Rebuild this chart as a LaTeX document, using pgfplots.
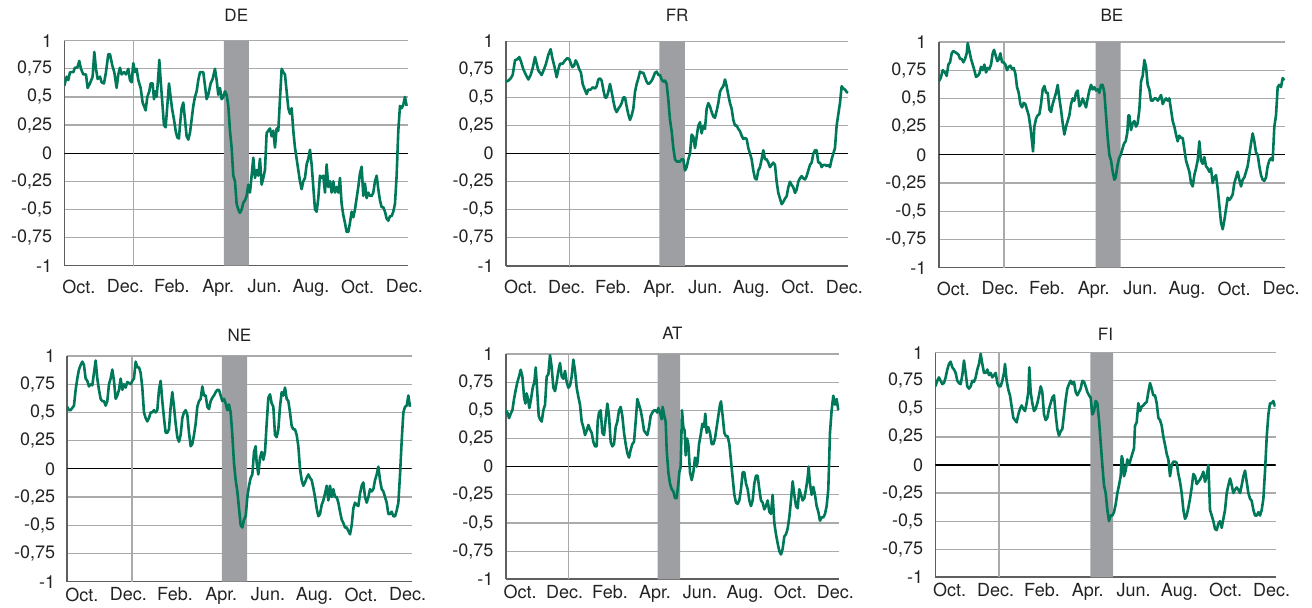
\documentclass[border=0pt]{standalone}
\usepackage{pgfplots}
\pgfplotsset{compat=1.18}
\usepackage{fontspec}
\setmainfont{TeX Gyre Heros}
\definecolor{lgreen}{RGB}{0,120,90}
\definecolor{shadegray}{RGB}{158,159,163}
\definecolor{gridgray}{RGB}{170,170,170}
\definecolor{axisgray}{RGB}{95,95,95}
\definecolor{textgray}{RGB}{35,35,35}
\pgfplotsset{
 panel/.style={
  scale only axis, axis lines=left, axis line style={draw=axisgray, line width=0.8pt, -},
  ymin=-1, ymax=1, ytick={-1,-0.75,-0.5,-0.25,0,0.25,0.5,0.75,1},
  yticklabels={-1,{-0,75},{-0,5},{-0,25},0,{0,25},{0,5},{0,75},1},
  ymajorgrids, grid style={gridgray, line width=0.6pt},
  major tick length=0pt,
  xticklabels={Oct.,Dec.,Feb.,Apr.,Jun.,Aug.,Oct.,Dec.},
  tick label style={font=\fontsize{9}{10}\selectfont, text=textgray},
  yticklabel style={xshift=-2.6pt},
  anchor=north west,
  title style={font=\fontsize{8.5}{10}\selectfont, text=textgray, anchor=base, at={(0.5,1)}},
 },
 toprow/.style={xticklabel style={yshift=-3.5pt}},
 botrow/.style={xticklabel style={yshift=0.5pt}},
 dline/.style={lgreen, line width=1.3pt, line join=round, no marks},
 zline/.style={black, line width=0.6pt, no marks},
 vline/.style={gridgray, line width=0.6pt, no marks},
 shade/.style={fill=shadegray, draw=none, no marks},
}
\begin{document}
\begin{tikzpicture}
\path[use as bounding box] (0,0) rectangle (656pt,304pt);
% ---------------- DE
\begin{axis}[panel, toprow, at={(32.15pt,283.65pt)}, width=172pt, height=112.5pt,
 xmin=193, xmax=1225, xtick={237,376,516,655,794,933,1073,1213},
 title={DE}, title style={yshift=3.5pt}]
\addplot[zline] coordinates {(193,0)(1225,0)};
\addplot[vline] coordinates {(400,-1)(400,1)};
\addplot[shade] coordinates {(672,-1)(747,-1)(747,1)(672,1)} \closedcycle;
\addplot[dline] coordinates {
(193,0.6)(200,0.68)(205,0.65)(210,0.72)(220,0.72)(225,0.76)(232,0.76)(238,0.82)(243,0.75)(250,0.70)
(258,0.70)(263,0.58)(270,0.62)(278,0.68)(283,0.90)(288,0.75)(293,0.66)(300,0.68)(305,0.63)(312,0.62)
(318,0.72)(325,0.88)(330,0.88)(337,0.78)(343,0.72)(350,0.58)(355,0.70)(360,0.76)(365,0.70)(372,0.72)
(378,0.70)(385,0.75)(390,0.65)(395,0.63)(400,0.80)(405,0.72)(410,0.75)(415,0.65)(422,0.58)(428,0.45)
(432,0.42)(437,0.38)(442,0.50)(448,0.55)(452,0.62)(458,0.62)(462,0.48)(466,0.55)(470,0.50)(475,0.68)
(478,0.83)(482,0.65)(487,0.45)(492,0.25)(497,0.23)(502,0.42)(507,0.62)(512,0.50)(516,0.40)(522,0.30)
(527,0.20)(532,0.14)(537,0.13)(540,0.25)(545,0.40)(550,0.45)(555,0.30)(560,0.15)(565,0.12)(570,0.18)
(575,0.30)(580,0.42)(585,0.50)(590,0.55)(595,0.65)(600,0.72)(610,0.72)(615,0.60)(620,0.48)(625,0.52)
(632,0.62)(638,0.66)(645,0.75)(650,0.65)(655,0.52)(660,0.58)(665,0.48)(670,0.50)(675,0.55)(680,0.52)
(685,0.42)(690,0.20)(695,0.05)(700,-0.20)(705,-0.25)(710,-0.45)(715,-0.50)(720,-0.53)(725,-0.50)(730,-0.44)
(735,-0.42)(740,-0.38)(745,-0.28)(750,-0.35)(755,-0.20)(760,-0.04)(765,-0.22)(770,-0.15)(775,-0.20)(780,-0.05)
(785,-0.28)(790,-0.22)(795,-0.15)(800,0.18)(805,0.20)(810,0.22)(815,0.15)(820,0.20)(825,0.05)(830,0.22)
(835,0.20)(840,0.48)(845,0.75)(850,0.72)(855,0.70)(860,0.55)(865,0.40)(870,0.35)(875,0.40)(880,0.20)
(885,0.05)(890,-0.05)(895,-0.15)(900,-0.25)(905,-0.32)(910,-0.25)(915,-0.22)(920,-0.10)(925,-0.05)(930,0.03)
(935,-0.10)(940,-0.30)(945,-0.50)(950,-0.52)(955,-0.40)(960,-0.20)(965,-0.22)(970,-0.20)(975,-0.35)(980,-0.10)
(985,-0.30)(990,-0.25)(995,-0.35)(1000,-0.25)(1005,-0.35)(1010,-0.30)(1015,-0.35)(1020,-0.22)(1025,-0.45)(1030,-0.55)
(1035,-0.62)(1040,-0.70)(1045,-0.70)(1050,-0.62)(1055,-0.52)(1060,-0.57)(1065,-0.50)(1070,-0.40)(1075,-0.30)(1080,-0.18)
(1085,-0.12)(1090,-0.38)(1095,-0.27)(1100,-0.40)(1105,-0.35)(1110,-0.38)(1115,-0.38)(1120,-0.35)(1125,-0.25)(1130,-0.20)
(1135,-0.32)(1140,-0.42)(1145,-0.48)(1150,-0.48)(1155,-0.52)(1160,-0.58)(1165,-0.60)(1170,-0.56)(1175,-0.56)(1180,-0.52)
(1185,-0.45)(1190,-0.20)(1195,0.20)(1200,0.42)(1205,0.40)(1210,0.43)(1215,0.50)(1220,0.42)};
\end{axis}
% ---------------- FR
\begin{axis}[panel, toprow, at={(253pt,283.35pt)}, width=171.15pt, height=112.35pt,
 xmin=198, xmax=1225, xtick={242,380,519,658,796,934,1074,1213},
 title={FR}, title style={yshift=3.8pt}]
\addplot[zline] coordinates {(198,0)(1225,0)};
\addplot[vline] coordinates {(388,-1)(388,1)};
\addplot[shade] coordinates {(658,-1)(735,-1)(735,1)(658,1)} \closedcycle;
\addplot[dline] coordinates {
(198,0.64)(205,0.65)(212,0.67)(218,0.70)(225,0.83)(232,0.84)(238,0.86)(243,0.82)(250,0.75)(258,0.70)
(265,0.66)(272,0.70)(278,0.76)(285,0.86)(290,0.80)(295,0.74)(300,0.72)(305,0.70)(312,0.75)(318,0.80)
(325,0.88)(332,0.93)(337,0.85)(343,0.78)(350,0.68)(355,0.75)(360,0.80)(368,0.80)(375,0.83)(382,0.85)
(388,0.84)(393,0.80)(397,0.77)(402,0.78)(407,0.83)(412,0.80)(418,0.75)(423,0.72)(428,0.62)(433,0.58)
(440,0.53)(445,0.57)(452,0.57)(458,0.59)(465,0.58)(470,0.60)(475,0.66)(480,0.67)(485,0.65)(490,0.57)
(495,0.50)(500,0.50)(505,0.55)(510,0.62)(515,0.55)(520,0.47)(525,0.40)(530,0.37)(535,0.40)(540,0.42)
(545,0.45)(550,0.50)(555,0.50)(560,0.42)(565,0.35)(570,0.30)(575,0.34)(580,0.40)(585,0.55)(590,0.62)
(595,0.67)(600,0.73)(605,0.72)(610,0.72)(615,0.68)(620,0.64)(625,0.62)(630,0.63)(635,0.65)(640,0.68)
(645,0.72)(650,0.73)(655,0.70)(660,0.70)(665,0.66)(670,0.64)(675,0.65)(680,0.62)(685,0.48)(690,0.30)
(695,0.20)(700,0.05)(705,-0.05)(710,-0.07)(715,-0.07)(720,-0.07)(725,-0.05)(730,-0.05)(735,-0.15)(740,-0.12)
(745,-0.05)(750,0.00)(755,0.17)(760,0.15)(765,0.05)(770,0.15)(775,0.25)(780,0.28)(785,0.18)(790,0.25)
(795,0.22)(800,0.40)(805,0.45)(810,0.42)(815,0.37)(820,0.33)(825,0.32)(830,0.38)(835,0.45)(840,0.55)
(845,0.58)(850,0.60)(855,0.66)(860,0.60)(865,0.52)(870,0.45)(875,0.40)(880,0.30)(885,0.25)(890,0.25)
(895,0.22)(900,0.20)(905,0.16)(910,0.13)(915,0.14)(920,0.13)(925,0.05)(930,0.00)(935,-0.05)(940,-0.15)
(945,-0.22)(950,-0.23)(955,-0.15)(960,-0.12)(965,-0.05)(970,0.03)(975,-0.05)(980,-0.05)(985,-0.08)(990,-0.12)
(995,-0.10)(1000,-0.08)(1005,-0.10)(1010,-0.25)(1015,-0.35)(1020,-0.40)(1025,-0.45)(1030,-0.43)(1035,-0.40)(1040,-0.38)
(1045,-0.30)(1050,-0.25)(1055,-0.28)(1060,-0.30)(1065,-0.35)(1070,-0.32)(1075,-0.25)(1080,-0.22)(1085,-0.20)(1090,-0.22)
(1095,-0.23)(1100,-0.20)(1105,-0.15)(1110,-0.10)(1115,-0.08)(1120,0.00)(1125,0.03)(1130,0.03)(1135,-0.08)(1140,-0.08)
(1145,-0.12)(1150,-0.10)(1155,-0.10)(1160,-0.11)(1165,-0.10)(1170,-0.12)(1175,-0.05)(1180,0.00)(1185,0.05)(1190,0.25)
(1195,0.35)(1200,0.45)(1205,0.60)(1210,0.58)(1215,0.57)(1220,0.55)(1224,0.54)};
\end{axis}
% ---------------- BE
\begin{axis}[panel, toprow, at={(469.35pt,283pt)}, width=173.15pt, height=112.85pt,
 xmin=206, xmax=1245, xtick={250,390,531,671,811,951,1092,1233},
 title={BE}, title style={yshift=4.1pt}]
\addplot[zline] coordinates {(206,0)(1245,0)};
\addplot[vline] coordinates {(402,-1)(402,1)};
\addplot[shade] coordinates {(677,-1)(752,-1)(752,1)(677,1)} \closedcycle;
\addplot[dline] coordinates {
(206,0.65)(212,0.68)(218,0.75)(225,0.73)(230,0.70)(235,0.80)(240,0.82)(245,0.90)(250,0.92)(255,0.91)
(260,0.90)(265,0.89)(270,0.85)(275,0.85)(280,0.82)(285,0.85)(290,0.90)(293,0.99)(298,0.92)(303,0.85)
(308,0.80)(313,0.75)(318,0.69)(323,0.70)(328,0.72)(333,0.78)(338,0.75)(343,0.80)(348,0.73)(353,0.77)
(358,0.76)(363,0.80)(368,0.90)(372,0.93)(377,0.88)(382,0.83)(387,0.85)(391,0.90)(396,0.82)(401,0.82)
(406,0.80)(411,0.75)(416,0.78)(421,0.79)(426,0.76)(431,0.77)(436,0.72)(441,0.60)(446,0.55)(451,0.45)
(456,0.42)(461,0.46)(466,0.45)(471,0.40)(476,0.35)(481,0.25)(486,0.12)(489,0.03)(493,0.25)(498,0.32)
(503,0.35)(508,0.36)(513,0.45)(518,0.58)(523,0.61)(528,0.55)(533,0.55)(538,0.40)(543,0.38)(548,0.45)
(553,0.50)(558,0.55)(563,0.62)(568,0.50)(573,0.40)(578,0.28)(583,0.18)(588,0.25)(593,0.30)(598,0.35)
(603,0.45)(608,0.50)(613,0.48)(618,0.55)(623,0.57)(628,0.43)(633,0.45)(638,0.50)(643,0.46)(648,0.42)
(653,0.50)(658,0.57)(663,0.62)(668,0.58)(673,0.60)(678,0.57)(683,0.58)(688,0.55)(693,0.62)(698,0.62)
(703,0.55)(708,0.35)(713,0.15)(718,0.00)(723,-0.05)(728,-0.15)(733,-0.22)(737,-0.20)(742,-0.10)(747,-0.03)
(752,0.00)(757,0.05)(762,0.10)(767,0.12)(772,0.20)(775,0.35)(778,0.35)(783,0.22)(788,0.28)(793,0.30)
(798,0.25)(803,0.28)(808,0.40)(813,0.65)(818,0.70)(823,0.84)(828,0.78)(833,0.62)(838,0.58)(843,0.48)
(848,0.48)(853,0.50)(858,0.50)(863,0.48)(868,0.50)(873,0.53)(878,0.45)(883,0.48)(888,0.50)(893,0.48)
(898,0.50)(903,0.40)(908,0.30)(913,0.25)(918,0.18)(923,0.12)(928,0.17)(933,0.15)(938,0.15)(943,0.05)
(948,-0.05)(953,-0.10)(958,-0.15)(963,-0.25)(968,-0.28)(973,-0.18)(978,-0.12)(983,-0.05)(988,0.12)(993,-0.05)
(998,-0.08)(1003,-0.02)(1008,-0.10)(1013,-0.12)(1018,-0.15)(1023,-0.12)(1028,-0.25)(1033,-0.20)(1038,-0.18)(1043,-0.30)
(1048,-0.45)(1053,-0.60)(1058,-0.66)(1063,-0.58)(1068,-0.48)(1073,-0.38)(1078,-0.40)(1083,-0.38)(1088,-0.35)(1093,-0.25)
(1098,-0.20)(1103,-0.15)(1108,-0.22)(1113,-0.28)(1118,-0.22)(1123,-0.20)(1128,-0.15)(1133,-0.10)(1138,0.00)(1143,0.10)
(1148,0.19)(1153,0.12)(1158,0.02)(1163,0.00)(1168,-0.10)(1173,-0.18)(1178,-0.22)(1183,-0.23)(1188,-0.20)(1193,-0.10)
(1198,-0.05)(1203,-0.03)(1208,-0.05)(1213,0.25)(1218,0.35)(1223,0.60)(1228,0.62)(1233,0.60)(1238,0.68)(1243,0.66)};
\end{axis}
% ---------------- NE
\begin{axis}[panel, botrow, at={(33.65pt,126pt)}, width=172.2pt, height=112.85pt,
 xmin=202, xmax=1235, xtick={246,385,525,664,804,943,1083,1223},
 title={NE}, title style={yshift=1.15pt}]
\addplot[zline] coordinates {(202,0)(1235,0)};
\addplot[vline] coordinates {(396,-1)(396,1)};
\addplot[shade] coordinates {(666,-1)(741,-1)(741,1)(666,1)} \closedcycle;
\addplot[dline] coordinates {
(202,0.55)(207,0.52)(212,0.52)(217,0.54)(222,0.56)(227,0.70)(232,0.80)(237,0.88)(242,0.92)(247,0.95)
(252,0.92)(257,0.80)(262,0.78)(267,0.73)(272,0.75)(277,0.74)(282,0.85)(287,0.96)(292,0.80)(297,0.70)
(302,0.62)(307,0.60)(312,0.60)(317,0.56)(322,0.60)(327,0.75)(332,0.80)(337,0.88)(342,0.78)(347,0.62)
(352,0.65)(357,0.70)(362,0.80)(367,0.70)(372,0.75)(377,0.72)(382,0.77)(387,0.76)(392,0.75)(397,0.78)
(402,0.80)(407,0.95)(412,0.90)(417,0.90)(422,0.85)(427,0.72)(432,0.50)(437,0.45)(442,0.42)(447,0.45)
(452,0.50)(457,0.50)(462,0.52)(467,0.50)(472,0.52)(477,0.70)(482,0.78)(487,0.60)(492,0.45)(497,0.32)
(502,0.32)(507,0.35)(512,0.55)(517,0.68)(522,0.55)(527,0.40)(532,0.28)(537,0.24)(542,0.30)(547,0.45)
(552,0.50)(557,0.52)(562,0.48)(567,0.32)(572,0.20)(577,0.22)(582,0.30)(587,0.40)(592,0.55)(597,0.60)
(602,0.62)(607,0.73)(612,0.65)(617,0.65)(622,0.55)(627,0.53)(632,0.60)(637,0.63)(642,0.65)(647,0.68)
(652,0.70)(657,0.70)(662,0.65)(667,0.60)(672,0.62)(677,0.58)(682,0.52)(687,0.57)(692,0.50)(697,0.30)
(702,0.05)(707,-0.10)(712,-0.20)(717,-0.35)(722,-0.50)(727,-0.52)(732,-0.45)(737,-0.42)(742,-0.25)(747,-0.15)
(752,-0.08)(757,-0.05)(762,0.15)(767,0.20)(770,0.05)(775,-0.05)(780,0.10)(785,0.15)(790,0.08)(795,0.15)
(800,0.40)(805,0.63)(810,0.66)(815,0.58)(820,0.55)(825,0.30)(830,0.28)(835,0.35)(840,0.55)(845,0.68)
(850,0.65)(855,0.72)(860,0.62)(865,0.60)(870,0.50)(875,0.38)(880,0.35)(885,0.35)(890,0.30)(895,0.20)
(900,0.00)(905,-0.10)(910,-0.15)(915,-0.12)(920,-0.08)(925,-0.05)(930,-0.08)(935,-0.10)(940,-0.17)(945,-0.25)
(950,-0.35)(955,-0.42)(960,-0.40)(965,-0.32)(970,-0.28)(975,-0.22)(980,-0.15)(985,-0.28)(990,-0.15)(995,-0.25)
(1000,-0.18)(1005,-0.25)(1010,-0.25)(1015,-0.30)(1020,-0.38)(1025,-0.45)(1030,-0.48)(1035,-0.52)(1040,-0.52)(1045,-0.55)
(1050,-0.58)(1055,-0.50)(1060,-0.35)(1065,-0.30)(1070,-0.32)(1075,-0.33)(1080,-0.22)(1085,-0.15)(1090,-0.12)(1095,-0.25)
(1100,-0.30)(1105,-0.25)(1110,-0.18)(1115,-0.20)(1120,-0.18)(1125,-0.10)(1130,-0.05)(1135,0.02)(1140,-0.10)(1145,-0.18)
(1150,-0.20)(1155,-0.25)(1160,-0.30)(1165,-0.40)(1170,-0.40)(1175,-0.38)(1180,-0.42)(1185,-0.42)(1190,-0.37)(1195,-0.30)
(1200,-0.05)(1205,0.25)(1210,0.50)(1215,0.55)(1220,0.56)(1225,0.65)(1230,0.55)};
\end{axis}
% ---------------- AT
\begin{axis}[panel, botrow, at={(252.85pt,127pt)}, width=166.8pt, height=112.65pt,
 xmin=197, xmax=1198, xtick={240,374,510,645,780,915,1051,1186},
 title={AT}, title style={yshift=1pt}]
\addplot[zline] coordinates {(197,0)(1198,0)};
\addplot[vline] coordinates {(386,-1)(386,1)};
\addplot[shade] coordinates {(653,-1)(720,-1)(720,1)(653,1)} \closedcycle;
\addplot[dline] coordinates {
(197,0.50)(202,0.48)(207,0.43)(212,0.47)(217,0.50)(222,0.60)(227,0.68)(232,0.75)(237,0.80)(242,0.86)
(247,0.80)(252,0.62)(256,0.56)(260,0.65)(264,0.60)(268,0.52)(273,0.60)(278,0.70)(283,0.75)(287,0.88)
(292,0.65)(296,0.45)(300,0.42)(305,0.40)(310,0.50)(315,0.55)(320,0.80)(325,0.82)(330,0.99)(335,0.88)
(340,0.70)(345,0.67)(350,0.75)(355,0.85)(360,0.92)(365,0.80)(370,0.78)(375,0.85)(380,0.75)(385,0.70)
(390,0.72)(395,0.80)(400,0.95)(405,0.85)(410,0.70)(415,0.62)(420,0.55)(425,0.40)(430,0.35)(435,0.28)
(440,0.32)(445,0.37)(450,0.33)(455,0.30)(460,0.22)(465,0.18)(470,0.18)(473,0.40)(477,0.48)(482,0.50)
(487,0.30)(492,0.28)(497,0.42)(502,0.56)(507,0.45)(512,0.22)(517,0.18)(522,0.20)(527,0.35)(532,0.40)
(537,0.50)(542,0.53)(547,0.45)(552,0.30)(557,0.20)(562,0.12)(567,0.08)(572,0.15)(577,0.20)(582,0.22)
(587,0.40)(592,0.60)(597,0.55)(602,0.50)(607,0.42)(612,0.32)(617,0.30)(622,0.28)(627,0.35)(632,0.45)
(637,0.48)(642,0.50)(647,0.50)(652,0.48)(655,0.52)(660,0.48)(665,0.42)(668,0.53)(673,0.45)(677,0.40)
(680,0.15)(685,-0.05)(690,-0.15)(695,-0.20)(700,-0.22)(705,-0.28)(710,-0.28)(715,-0.15)(718,-0.05)(722,0.00)
(726,0.50)(730,0.35)(734,0.32)(737,0.10)(741,0.25)(745,0.20)(750,-0.05)(755,-0.12)(760,-0.05)(765,0.08)
(770,0.00)(773,0.05)(777,0.20)(782,0.28)(787,0.38)(792,0.35)(796,0.47)(800,0.30)(805,0.35)(810,0.30)
(815,0.20)(820,0.20)(825,0.25)(830,0.35)(835,0.45)(840,0.55)(843,0.58)(848,0.45)(853,0.30)(858,0.27)
(863,0.27)(868,0.20)(873,0.05)(878,-0.10)(883,-0.25)(888,-0.32)(893,-0.33)(898,-0.30)(903,-0.20)(908,-0.05)
(913,-0.05)(918,-0.15)(923,-0.20)(928,-0.30)(933,-0.35)(938,-0.30)(943,-0.15)(948,-0.08)(953,-0.08)(958,-0.20)
(963,-0.30)(968,-0.32)(973,-0.38)(978,-0.35)(983,-0.30)(988,-0.40)(993,-0.42)(998,-0.25)(1003,-0.50)(1008,-0.60)
(1013,-0.68)(1018,-0.75)(1023,-0.78)(1028,-0.73)(1033,-0.62)(1038,-0.60)(1043,-0.55)(1048,-0.45)(1053,-0.30)(1058,-0.13)
(1063,-0.25)(1068,-0.35)(1073,-0.37)(1078,-0.20)(1083,-0.25)(1088,-0.30)(1093,-0.28)(1098,-0.20)(1103,-0.10)(1106,0.00)
(1110,-0.15)(1115,-0.25)(1120,-0.18)(1125,-0.25)(1130,-0.35)(1135,-0.40)(1140,-0.48)(1145,-0.45)(1150,-0.45)(1155,-0.42)
(1160,-0.35)(1165,-0.20)(1170,0.30)(1175,0.50)(1180,0.63)(1185,0.55)(1190,0.60)(1195,0.50)};
\end{axis}
% ---------------- FI
\begin{axis}[panel, botrow, at={(467.65pt,127.65pt)}, width=170.2pt, height=112.3pt,
 xmin=196, xmax=1217, xtick={239,377,516,653,791,928,1067,1205},
 title={FI}, title style={yshift=-0.1pt}]
\addplot[zline] coordinates {(196,0)(1217,0)};
\addplot[vline] coordinates {(387,-1)(387,1)};
\addplot[shade] coordinates {(661,-1)(729,-1)(729,1)(661,1)} \closedcycle;
\addplot[dline] coordinates {
(196,0.70)(202,0.75)(207,0.78)(212,0.75)(217,0.72)(222,0.73)(227,0.78)(232,0.85)(237,0.90)(242,0.92)
(247,0.87)(252,0.85)(257,0.82)(262,0.75)(267,0.73)(272,0.72)(277,0.80)(282,0.93)(287,0.82)(292,0.70)
(297,0.68)(302,0.70)(307,0.75)(312,0.74)(317,0.78)(322,0.85)(327,0.90)(332,0.99)(337,0.90)(342,0.82)
(347,0.82)(352,0.85)(357,0.80)(362,0.82)(367,0.78)(372,0.80)(377,0.82)(382,0.73)(387,0.70)(392,0.70)
(397,0.75)(402,0.82)(405,0.90)(410,0.75)(415,0.67)(420,0.62)(425,0.52)(430,0.42)(435,0.40)(440,0.38)
(445,0.45)(450,0.50)(455,0.53)(460,0.50)(465,0.48)(470,0.55)(475,0.65)(478,0.87)(482,0.65)(487,0.55)
(492,0.48)(497,0.50)(502,0.55)(507,0.62)(512,0.70)(517,0.65)(522,0.45)(527,0.40)(532,0.42)(537,0.50)
(542,0.55)(547,0.60)(552,0.62)(557,0.45)(562,0.32)(567,0.26)(572,0.30)(577,0.32)(582,0.45)(587,0.58)
(592,0.68)(597,0.72)(602,0.75)(607,0.72)(612,0.74)(617,0.65)(622,0.62)(627,0.65)(632,0.68)(637,0.75)
(642,0.74)(647,0.70)(652,0.65)(657,0.62)(662,0.60)(667,0.45)(672,0.48)(677,0.57)(682,0.55)(687,0.40)
(692,0.20)(697,0.00)(702,-0.18)(707,-0.25)(712,-0.40)(717,-0.50)(722,-0.45)(727,-0.45)(732,-0.42)(737,-0.35)
(742,-0.25)(747,-0.18)(752,-0.10)(755,0.08)(758,0.05)(762,-0.10)(767,-0.05)(772,0.05)(777,0.00)(782,0.05)
(787,0.10)(792,0.15)(795,0.35)(800,0.38)(805,0.55)(810,0.48)(815,0.52)(820,0.53)(825,0.55)(830,0.56)
(835,0.65)(840,0.73)(845,0.68)(850,0.62)(855,0.62)(860,0.55)(865,0.42)(870,0.40)(875,0.35)(880,0.25)
(885,0.18)(890,0.10)(895,0.05)(900,-0.10)(905,0.00)(910,0.03)(915,0.03)(920,0.02)(925,-0.08)(930,-0.15)
(935,-0.25)(940,-0.40)(945,-0.48)(950,-0.45)(955,-0.38)(960,-0.30)(965,-0.20)(970,-0.08)(975,-0.10)(980,-0.17)
(985,-0.15)(990,-0.13)(995,-0.10)(1000,-0.06)(1005,-0.15)(1010,-0.10)(1015,0.00)(1020,-0.40)(1025,-0.45)(1030,-0.50)
(1035,-0.57)(1040,-0.58)(1045,-0.52)(1050,-0.50)(1055,-0.56)(1060,-0.48)(1065,-0.40)(1070,-0.25)(1075,-0.18)(1080,-0.12)
(1085,-0.18)(1090,-0.25)(1095,-0.22)(1100,-0.20)(1105,-0.22)(1110,-0.25)(1115,-0.18)(1120,-0.10)(1125,-0.05)(1130,-0.15)
(1135,-0.25)(1140,-0.30)(1145,-0.32)(1150,-0.40)(1155,-0.45)(1160,-0.45)(1165,-0.42)(1170,-0.45)(1175,-0.40)(1180,-0.30)
(1185,-0.05)(1190,0.25)(1195,0.45)(1200,0.55)(1205,0.55)(1210,0.57)(1215,0.52)};
\end{axis}
\end{tikzpicture}
\end{document}
